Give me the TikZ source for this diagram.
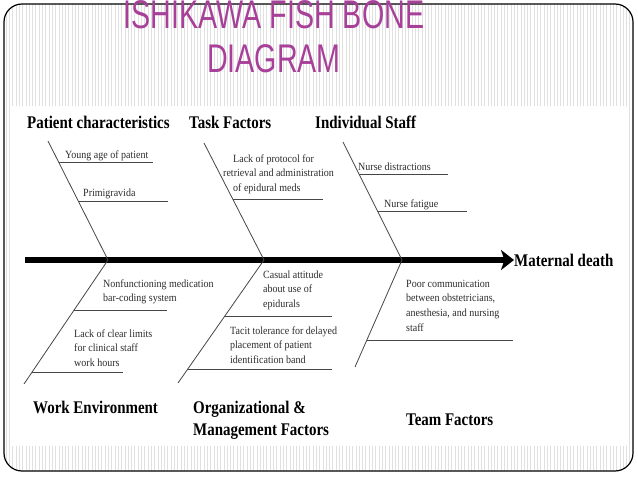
\documentclass[tikz,border=0pt]{standalone}
\usepackage{fontspec}
\setmainfont{Liberation Serif}
\newfontfamily\titlefont[FakeStretch=0.716]{Liberation Sans}
\newfontfamily\catfont[FakeStretch=0.84]{Liberation Serif}
\newfontfamily\causefont[FakeStretch=0.91]{Liberation Serif}
\usetikzlibrary{arrows.meta}
\definecolor{titlecol}{RGB}{168,64,154}
\definecolor{bonecol}{RGB}{70,70,70}
\definecolor{causecol}{RGB}{45,45,45}
\begin{document}
\begin{tikzpicture}[x=1pt,y=-1pt,
  bone/.style={draw=bonecol,line width=0.8pt},
  twig/.style={draw=bonecol,line width=0.8pt},
  cause/.style={inner sep=0pt,anchor=base west,font=\causefont\fontsize{11}{14.7}\selectfont,align=left,text=causecol},
  cat/.style={inner sep=0pt,anchor=base west,font=\catfont\fontsize{17.8}{22}\selectfont\bfseries,align=left},
  stripe/.style={draw=black!12,line width=0.5pt},
  ttl/.style={inner sep=0pt,anchor=base,font=\titlefont\fontsize{40}{44}\selectfont,text=titlecol}]
\useasboundingbox (0,0) rectangle (638,479);
\clip (0,0) rectangle (638,479);
\fill[white] (0,0) rectangle (638,479);
% slide background with pinstripes
\begin{scope}
  \clip[rounded corners=18pt] (4,4) rectangle (633,471);
  \foreach \i in {0,...,190} {\draw[stripe] (6+\i*3.3,4) -- ++(0,467);}
\end{scope}
\fill[white] (12,106) rectangle (628,446);
\draw[line width=1.2pt,rounded corners=18pt] (4,4) rectangle (633,471);
% title
\node[ttl] (t1) at (274,28) {ISHIKAWA FISH BONE};
\node[ttl] (t2) at (274,72) {DIAGRAM};
% category headers (base = last line)
\node[cat] (pc) at (27,128) {Patient characteristics};
\node[cat] (tf) at (189,128) {Task Factors};
\node[cat] (is) at (315,128) {Individual Staff};
\node[cat] (we) at (33,413) {Work Environment};
\node[cat] (om) at (193,435) {Organizational \&\\Management Factors};
\node[cat] (tm) at (406,425) {Team Factors};
\node[cat] (md) at (514,266) {Maternal death};
% spine
\coordinate (tail) at (25,260);
\draw[line width=5.5pt,-{Stealth[length=13pt,width=20pt,inset=3.5pt]}] (tail) -- (tail -| md.west);
% bone coordinates
\coordinate (b1t) at (48,141);  \coordinate (b1s) at (108,260);
\coordinate (b2t) at (204,143); \coordinate (b2s) at (264,260);
\coordinate (b3t) at (343,142); \coordinate (b3s) at (402,260);
\coordinate (b4b) at (24,384);
\coordinate (b5b) at (178,383);
\coordinate (b6b) at (355,367);
\draw[bone] (b1t) -- (b1s);
\draw[bone] (b2t) -- (b2s);
\draw[bone] (b3t) -- (b3s);
\draw[bone] (b1s) -- (b4b);
\draw[bone] (b2s) -- (b5b);
\draw[bone] (b3s) -- (b6b);
% twigs
\coordinate (w1a) at (58.6,162); \coordinate (w1b) at (153,162);
\coordinate (w2a) at (78.3,201); \coordinate (w2b) at (168,201);
\coordinate (w3a) at (232.7,199); \coordinate (w3b) at (323,199);
\coordinate (w4a) at (359,174); \coordinate (w4b) at (448,174);
\coordinate (w5a) at (377.5,211); \coordinate (w5b) at (467,211);
\coordinate (w6a) at (74.1,310); \coordinate (w6b) at (167,310);
\coordinate (w7a) at (32.2,372); \coordinate (w7b) at (123,372);
\coordinate (w8a) at (224.8,316); \coordinate (w8b) at (332,316);
\coordinate (w9a) at (187.8,369); \coordinate (w9b) at (332,369);
\coordinate (w10a) at (366.9,340); \coordinate (w10b) at (513,340);
\foreach \k in {1,...,10} {\draw[twig] (w\k a) -- (w\k b);}
% cause texts (base = last line)
\node[cause] (c1) at (65,158) {Young age of patient};
\node[cause] (c2) at (83,196) {Primigravida};
\node[cause] (c3) at (233,191.4) {Lack of protocol for\\\hspace*{-10pt}retrieval and administration\\of epidural meds};
\node[cause] (c4) at (358,170) {Nurse distractions};
\node[cause] (c5) at (384,207) {Nurse fatigue};
\node[cause] (c6) at (103,301.7) {Nonfunctioning medication\\bar-coding system};
\node[cause] (c7) at (74,366.4) {Lack of clear limits\\for clinical staff\\work hours};
\node[cause] (c8) at (263,307.4) {Casual attitude\\about use of\\epidurals};
\node[cause] (c9) at (230,363.4) {Tacit tolerance for delayed\\placement of patient\\identification band};
\node[cause] (c10) at (406,331.1) {Poor communication\\between obstetricians,\\anesthesia, and nursing\\staff};
\end{tikzpicture}
\end{document}
